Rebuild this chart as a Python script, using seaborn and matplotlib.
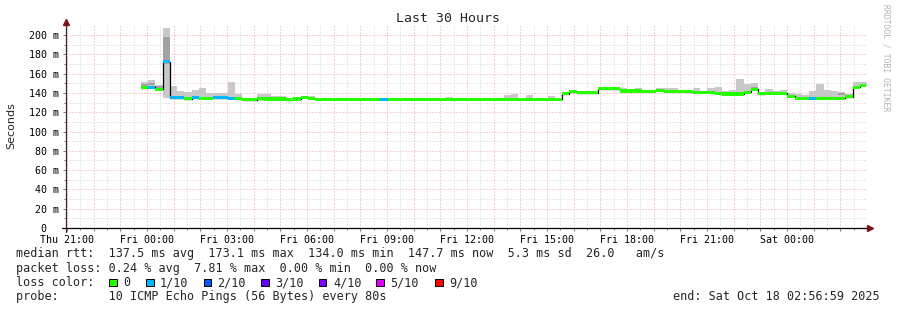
import matplotlib
matplotlib.use("Agg")
import matplotlib.pyplot as plt
import matplotlib.transforms as mtransforms
from matplotlib.patches import Rectangle
from matplotlib.ticker import MultipleLocator, FixedLocator
import numpy as np
import seaborn as sns

# ---------------- data ----------------
title = "Last 30 Hours"
y_label = "Seconds"
x_tick_hours = [0, 3, 6, 9, 12, 15, 18, 21, 24, 27]          # hours after Thu 21:00
x_tick_labels = ["Thu 21:00", "Fri 00:00", "Fri 03:00", "Fri 06:00", "Fri 09:00",
                 "Fri 12:00", "Fri 15:00", "Fri 18:00", "Fri 21:00", "Sat 00:00"]
y_ticks = [0, 20, 40, 60, 80, 100, 120, 140, 160, 180, 200]   # ms
y_tick_labels = ["0", "20 m", "40 m", "60 m", "80 m", "100 m", "120 m",
                 "140 m", "160 m", "180 m", "200 m"]

first_step_h = 2.764      # first sample, hours after Thu 21:00
step_h = 0.2724           # consolidation step (hours)

median_ms = ([145.4, 146.0, 143.7, 172.5, 135.0, 135.0, 134.0, 135.0, 134.5, 134.4,
              135.0, 135.0, 134.5, 134.0, 133.0, 133.0, 134.0, 133.7, 133.7, 133.7,
              132.7, 133.7, 135.4, 134.4]
             + [133.4] * 26 + [133.6] * 7 + [133.5]
             + [139.2, 141.4, 140.4, 140.4, 140.4, 144.5, 144.5, 144.5, 142.0, 142.0,
                142.0, 141.7, 141.7, 142.7, 141.5, 141.5, 141.5, 141.0, 140.6, 140.6,
                140.6, 139.6, 138.9, 138.9, 138.9, 140.5, 143.7, 139.0, 139.5, 139.5,
                139.5, 136.5, 134.4, 134.4, 134.4, 134.4, 134.5, 134.5, 134.5, 136.0,
                145.7, 147.8])

smoke_max_ms = ([151, 153, 148, 207, 147, 142, 141, 143, 145, 140,
                 140, 140, 151, 139, 134.5, 134.5, 139, 139, 137, 136.5,
                 134, 135, 136.5, 137, 135]
                + [134.5] * 17 + [136] + [134.5] * 7
                + [138, 139, 134.5, 138, 134.5, 134.5, 137, 134.5]
                + [141, 142.5, 142, 142, 142, 146, 146, 146, 145, 144.5,
                   145, 143, 143, 145, 145, 145.5, 143, 143, 145, 142,
                   145, 146.2, 141.5, 143, 154.4, 149, 150.7, 141, 144, 142,
                   143, 140, 139, 138, 142, 149, 143.5, 142, 141, 139,
                   151, 151])

smoke_min_ms = ([144.5, 145, 142.5, 134.7, 134, 134, 133, 134, 133.5, 133.5,
                 134, 134, 133.5, 133, 132, 132, 133, 132.7, 132.7, 132.7,
                 131.7, 132.7, 134.4, 133.4]
                + [132.5] * 26 + [132.6] * 8
                + [138.2, 140.4, 139.4, 139.4, 139.4, 143.5, 143.5, 143.5, 141, 141,
                   141, 140.7, 140.7, 141.7, 140.5, 140.5, 140.5, 140, 139.6, 139.6,
                   139.6, 138.6, 137.9, 137.9, 137.9, 139.5, 142.7, 138, 138.5, 138.5,
                   138.5, 135.5, 133.4, 133.4, 133.4, 133.4, 133.5, 133.5, 133.5, 135,
                   144.7, 146.8])

# loss level per step: index into loss_colors (0 = no loss, 1 = 1/10)
loss_level = ([0, 1, 0, 1, 1, 1, 0, 1, 0, 0, 1, 1, 1]
              + [0] * 20 + [1] + [0] * 56 + [0, 0, 1] + [0] * 8)

# darker inner smoke band (steps with visible spread)
dark_steps = [0, 1, 2, 3, 84, 96]
dark_lo_ms = [147.5, 148.5, 145.5, 174.0, 144.0, 138.0]
dark_hi_ms = [149.5, 150.5, 147.5, 198.0, 146.5, 140.0]

loss_colors = ["#26ff00", "#00b8ff", "#0059ff", "#5e00ff", "#7e00ff", "#dd00ff", "#ff0000"]
loss_labels = ["0", "1/10", "2/10", "3/10", "4/10", "5/10", "9/10"]

stats_line = "median rtt:  137.5 ms avg  173.1 ms max  134.0 ms min  147.7 ms now  5.3 ms sd  26.0   am/s"
loss_line = "packet loss: 0.24 % avg  7.81 % max  0.00 % min  0.00 % now"
probe_line = "probe:       10 ICMP Echo Pings (56 Bytes) every 80s"
end_text = "end: Sat Oct 18 02:56:59 2025"
watermark = "RRDTOOL / TOBI OETIKER"

# ---------------- figure ----------------
sns.set_theme(style="white")
plt.rcParams['font.family'] = ['DejaVu Sans Mono', 'DejaVu Sans']

W, H = 897, 310
fig = plt.figure(figsize=(W / 100, H / 100), dpi=100, facecolor="white")
px_per_ms = 0.965
ax_l, ax_r, ax_t, ax_b = 65.7, 865.7, 25.6, 228.0
ax = fig.add_axes([ax_l / W, 1 - ax_b / H, (ax_r - ax_l) / W, (ax_b - ax_t) / H])
ax.set_facecolor("white")
ax.set_xlim(-0.05, 29.95)
ax.set_ylim(0, (ax_b - ax_t) / px_per_ms)

n = len(median_ms)
t = first_step_h + np.arange(n) * step_h
t_edges = np.append(t, t[-1] + step_h)
med = np.array(median_ms)
smax = np.array(smoke_max_ms)
smin = np.array(smoke_min_ms)

# smoke
ax.fill_between(t_edges, np.append(smin, smin[-1]), np.append(smax, smax[-1]),
                step="post", color="#c8c8c8", lw=0, zorder=2)
ax.bar(t[dark_steps], np.array(dark_hi_ms) - np.array(dark_lo_ms), bottom=dark_lo_ms,
       width=step_h, align="edge", color="#a2a2a2", lw=0, zorder=2.1)

# median line (black) and loss-coloured band
sns.lineplot(x=t_edges, y=np.append(med, med[-1]), drawstyle="steps-post", color="black",
             lw=0.9, ax=ax, zorder=3, estimator=None, sort=False)
band = 3.2
ax.bar(t, band, bottom=med - band / 2, width=step_h, align="edge",
       color=[loss_colors[i] for i in loss_level], lw=0, zorder=4)

# grid
ax.xaxis.set_major_locator(FixedLocator(list(range(0, 30))))
ax.xaxis.set_minor_locator(MultipleLocator(0.5))
xl = []
for h in range(30):
    xl.append(x_tick_labels[x_tick_hours.index(h)] if h in x_tick_hours else "")
ax.set_xticklabels(xl)
ax.yaxis.set_major_locator(FixedLocator(y_ticks))
ax.yaxis.set_minor_locator(MultipleLocator(10))
ax.set_yticklabels(y_tick_labels)
ax.set_axisbelow(True)
ax.grid(which="major", color="#f2a2a2", lw=0.72, ls=(0, (1, 2)))
ax.grid(which="minor", color="#d2d2d2", lw=0.72, ls=(0, (1, 2)))
ax.tick_params(which="both", bottom=True, left=True, length=2.2, width=0.7,
               color="#777777", pad=2.5, labelsize=7.2, labelcolor="black")
ax.tick_params(which="minor", length=1.5)
for s in ax.spines.values():
    s.set_visible(False)
ax.set_xlabel("")
ax.set_ylabel("")

# shift "0" label like rrdtool's "%3.0lf %s" format
zero_lbl = ax.yaxis.get_major_ticks()[0].label1
zero_lbl.set_transform(zero_lbl.get_transform() +
                       mtransforms.ScaledTranslation(-0.13, 0, fig.dpi_scale_trans))

# axes lines with arrows
ax.plot([-0.19, 30.05], [0, 0], color="black", lw=0.9, clip_on=False, zorder=5)
ax.plot([-0.05, -0.05], [-4, 212], color="#3a2a2a", lw=0.9, clip_on=False, zorder=5)
ax.plot([30.12], [0], marker=">", ms=4, color="#7a1515", clip_on=False, zorder=6, lw=0)
ax.plot([-0.05], [213.2], marker="^", ms=4, color="#7a1515", clip_on=False, zorder=6, lw=0)

# texts
fig.text(448 / W, 1 - 19 / H, title, ha="center", va="center", fontsize=9.5)
fig.text(11 / W, 1 - 126 / H, y_label, rotation=90, ha="center", va="center",
         fontsize=8, family="DejaVu Sans")
fig.text(886 / W, 1 - 4 / H, watermark, rotation=270, ha="center", va="top",
         fontsize=5.8, color="#b4b4b4")

fs = 8.5
fig.text(16 / W, 1 - 254 / H, stats_line, va="center", fontsize=fs)
fig.text(16 / W, 1 - 268.5 / H, loss_line, va="center", fontsize=fs)
fig.text(16 / W, 1 - 282.5 / H, "loss color:", va="center", fontsize=fs)
fig.text(16 / W, 1 - 296.5 / H, probe_line, va="center", fontsize=fs)
fig.text(880 / W, 1 - 296.5 / H, end_text, ha="right", va="center", fontsize=fs)

sq_x = [109, 146, 203.5, 261, 318.5, 376, 435]
lb_x = [123, 160, 217, 275, 333, 390, 449]
for c, lab, sx, lx in zip(loss_colors, loss_labels, sq_x, lb_x):
    fig.add_artist(Rectangle((sx / W, 1 - 286 / H), 7.5 / W, 7.5 / H,
                             transform=fig.transFigure, facecolor=c,
                             edgecolor="black", lw=0.7))
    fig.text(lx / W, 1 - 282.5 / H, lab, va="center", fontsize=fs)

fig.savefig("out.png", dpi=100, facecolor="white")
